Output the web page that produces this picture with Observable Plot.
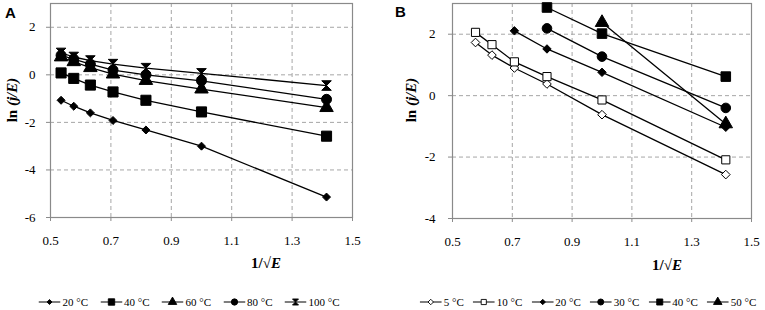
<!DOCTYPE html>
<html>
<head>
<meta charset="utf-8">
<script src="https://cdn.jsdelivr.net/npm/d3@7"></script>
<script src="https://cdn.jsdelivr.net/npm/@observablehq/plot@0.6"></script>
<style>
  body { margin: 0; background: #fff; }
  #root { position: relative; width: 765px; height: 310px; background: #fff; overflow: hidden; font-family: "Liberation Serif", "DejaVu Serif", serif; color: #000; }
  .abs { position: absolute; white-space: nowrap; }
  .letter { font-family: "Liberation Sans", Arial, sans-serif; font-weight: bold; font-size: 15px; }
  .ytitle { font-weight: bold; font-size: 15px; transform: translate(-50%, -50%) rotate(-90deg); }
  .xtitle { font-weight: bold; font-size: 15px; transform: translate(-50%, -50%); }
  .legend { display: flex; gap: 12px; font-size: 11px; align-items: center; transform: translate(-50%, -50%); }
  #legB { gap: 9px; }
  .item { display: flex; align-items: center; gap: 2px; }
</style>
</head>
<body>
<div id="root">
  <div id="pa" class="abs" style="left:0;top:0"></div>
  <div id="pb" class="abs" style="left:385px;top:0"></div>
  <div class="abs letter" style="left:5px;top:4px">A</div>
  <div class="abs letter" style="left:395px;top:3px">B</div>
  <div class="abs ytitle" style="left:12px;top:100px">ln <i>(j/E)</i></div>
  <div class="abs ytitle" style="left:411px;top:100px">ln <i>(j/E)</i></div>
  <div class="abs xtitle" style="left:266px;top:263px">1/√<i>E</i></div>
  <div class="abs xtitle" style="left:667px;top:265px">1/√<i>E</i></div>
  <div id="legA" class="abs legend" style="left:189px;top:302px"></div>
  <div id="legB" class="abs legend" style="left:588px;top:302px"></div>
</div>
<script>
// ---------- Data: panel A ----------
const xA = [0.535, 0.577, 0.632, 0.707, 0.816, 1.0, 1.414];
const seriesA = ["20 °C", "40 °C", "60 °C", "80 °C", "100 °C"];
const a20  = [-1.07, -1.32, -1.60, -1.92, -2.32, -3.00, -5.14];
const a40  = [0.08, -0.15, -0.43, -0.72, -1.07, -1.56, -2.58];
const a60  = [0.75, 0.55, 0.30, 0.03, -0.24, -0.60, -1.38];
const a80  = [0.82, 0.66, 0.45, 0.20, 0.00, -0.25, -1.03];
const a100 = [0.92, 0.75, 0.60, 0.45, 0.28, 0.06, -0.45];

// ---------- Data: panel B ----------
const seriesB = ["5 °C", "10 °C", "20 °C", "30 °C", "40 °C", "50 °C"];
const xB5  = [0.577, 0.632, 0.707, 0.816, 1.0, 1.414];
const xB10 = [0.577, 0.632, 0.707, 0.816, 1.0, 1.414];
const xB20 = [0.707, 0.816, 1.0, 1.414];
const xB30 = [0.816, 1.0, 1.414];
const xB40 = [0.816, 1.0, 1.414];
const xB50 = [1.0, 1.414];
const b5  = [1.73, 1.32, 0.90, 0.38, -0.62, -2.57];
const b10 = [2.06, 1.66, 1.10, 0.62, -0.14, -2.09];
const b20 = [2.11, 1.52, 0.76, -1.03];
const b30 = [2.19, 1.27, -0.40];
const b40 = [2.87, 2.02, 0.62];
const b50 = [2.38, -0.92];

// ---------- Ticks ----------
const xTicks = [0.5, 0.7, 0.9, 1.1, 1.3, 1.5];
const yTicksA = [-6, -4, -2, 0, 2];
const yTicksB = [-4, -2, 0, 2];

// ---------- Tables ----------
const valuesA = [a20, a40, a60, a80, a100];
const tableA = seriesA.flatMap((s, i) => valuesA[i].map((v, j) => ({series: s, x: xA[j], y: v})));
const xsB = [xB5, xB10, xB20, xB30, xB40, xB50];
const valuesB = [b5, b10, b20, b30, b40, b50];
const tableB = seriesB.flatMap((s, i) => valuesB[i].map((v, j) => ({series: s, x: xsB[i][j], y: v})));

// ---------- Symbols ----------
const hourglass = {
  draw(ctx, size) {
    const s = Math.sqrt(size) / 2;
    ctx.moveTo(-s, -s); ctx.lineTo(s, -s); ctx.lineTo(-s, s); ctx.lineTo(s, s); ctx.closePath();
  }
};
const stylesA = {
  "20 °C":  {symbol: "diamond2", fill: "black", r: 3.6},
  "40 °C":  {symbol: "square", fill: "black", r: 5.7},
  "60 °C":  {symbol: "triangle", fill: "black", r: 5.0},
  "80 °C":  {symbol: "circle", fill: "black", r: 5.0},
  "100 °C": {symbol: hourglass, fill: "black", r: 5.4}
};
const stylesB = {
  "5 °C":  {symbol: "diamond2", fill: "white", r: 3.9},
  "10 °C": {symbol: "square", fill: "white", r: 4.6},
  "20 °C": {symbol: "diamond2", fill: "black", r: 3.8},
  "30 °C": {symbol: "circle", fill: "black", r: 4.8},
  "40 °C": {symbol: "square", fill: "black", r: 5.4},
  "50 °C": {symbol: "triangle", fill: "black", r: 5.0}
};

const serifFont = "Liberation Serif, DejaVu Serif, serif";

function panel(table, series, styles, yDomain, yTicks, opts) {
  const gridStyle = {stroke: "#a6a6a6", strokeOpacity: 1, strokeDasharray: "4,3", strokeWidth: 1};
  const svg = Plot.plot({
    width: opts.width, height: 250,
    marginLeft: opts.marginLeft, marginRight: opts.marginRight, marginTop: 3, marginBottom: opts.marginBottom,
    x: {domain: [0.5, 1.5], label: null},
    y: {domain: yDomain, label: null},
    style: {fontFamily: serifFont, fontSize: "13px", background: "white", color: "black", overflow: "visible"},
    marks: [
      Plot.gridX(xTicks.slice(1, -1), gridStyle),
      Plot.gridY(yTicks.filter(t => t > yDomain[0]), gridStyle),
      Plot.frame({stroke: "#8a8a8a", strokeWidth: 1.2}),
      Plot.axisX(xTicks, {tickSize: 4, tickPadding: 14, stroke: "#8a8a8a", fill: "black", tickFormat: d => d.toFixed(1), label: null}),
      Plot.axisY(yTicks, {tickSize: 4, tickPadding: opts.yPad, stroke: "#8a8a8a", fill: "black", tickFormat: d => String(d), label: null}),
      Plot.line(table, {x: "x", y: "y", z: "series", stroke: "black", strokeWidth: 1.3}),
      ...series.map(s => Plot.dot(table.filter(d => d.series === s), {
        x: "x", y: "y", symbol: styles[s].symbol, r: styles[s].r,
        fill: styles[s].fill, stroke: "black", strokeWidth: 1
      }))
    ]
  });
  svg.setAttribute("font-family", serifFont);
  return svg;
}

document.getElementById("pa").append(panel(tableA, seriesA, stylesA, [-6, 3], yTicksA,
  {width: 370, marginLeft: 50, marginRight: 18, marginBottom: 33, yPad: 11}));
document.getElementById("pb").append(panel(tableB, seriesB, stylesB, [-4, 3], yTicksB,
  {width: 380, marginLeft: 67, marginRight: 14, marginBottom: 32, yPad: 13}));

// ---------- Legends ----------
function symbolPath(sym, size) {
  const map = {diamond2: d3.symbolDiamond2, square: d3.symbolSquare, triangle: d3.symbolTriangle, circle: d3.symbolCircle};
  const type = typeof sym === "string" ? map[sym] : sym;
  return d3.symbol(type, size)();
}
function legend(id, series, styles) {
  const el = document.getElementById(id);
  series.forEach(s => {
    const item = document.createElement("div");
    item.className = "item";
    const st = styles[s];
    const size = Math.PI * st.r * st.r * 0.4;
    item.innerHTML = `<svg width="22" height="10" style="display:block"><line x1="0" x2="22" y1="5" y2="5" stroke="black" stroke-width="1.1"/><path transform="translate(11,5)" d="${symbolPath(st.symbol, size)}" fill="${st.fill}" stroke="black" stroke-width="0.9"/></svg><span>${s}</span>`;
    el.append(item);
  });
}
legend("legA", seriesA, stylesA);
legend("legB", seriesB, stylesB);
</script>
</body>
</html>
